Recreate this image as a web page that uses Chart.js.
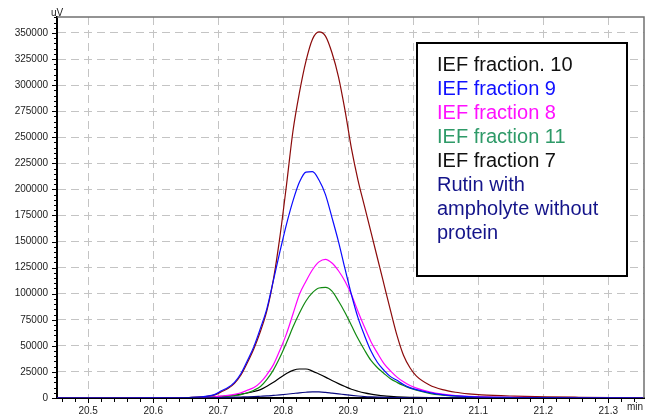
<!DOCTYPE html>
<html>
<head>
<meta charset="utf-8">
<script src="https://cdn.jsdelivr.net/npm/chart.js@4.4.1/dist/chart.umd.min.js"></script>
<style>
  html, body { margin: 0; padding: 0; background: #fff; }
  canvas { display: block; }
</style>
</head>
<body>
<canvas id="chart" width="652" height="415"></canvas>
<script>
// retention time (min)
const times = [20.45, 20.55, 20.605, 20.655, 20.675, 20.695,
  20.705, 20.715, 20.725, 20.735, 20.745, 20.755, 20.765, 20.775, 20.785, 20.795,
  20.805, 20.815, 20.825, 20.835, 20.845, 20.855, 20.865, 20.875, 20.885, 20.895,
  20.905, 20.915, 20.925, 20.935, 20.945, 20.955, 20.965, 20.975, 20.985, 20.995, 21.005,
  21.025, 21.045, 21.065, 21.085, 21.105,
  21.155, 21.205, 21.255, 21.305, 21.355];

// signal (uV)
const frac10 = [0, 0, 200, 500, 1000, 3000,
  6000, 9000, 14000, 22000, 34000, 47500, 64000, 84000, 114000, 155000,
  204000, 256000, 293000, 323000, 344000, 351000, 347000, 331000, 308000, 276000,
  239000, 209000, 184000, 159000, 134000, 109000, 84000, 60000, 41000, 29000, 21000,
  12500, 8000, 5500, 4000, 3000,
  1800, 1100, 700, 400, 200];
const frac9 = [0, 0, 200, 500, 1100, 3500,
  7000, 10000, 15000, 23500, 36000, 49500, 67000, 86000, 113000, 140500,
  166500, 189000, 207000, 216500, 217000, 209000, 195000, 173000, 150000, 124000,
  99000, 77000, 60000, 45000, 34000, 26500, 20500, 17000, 13000, 10000, 8000,
  5200, 3200, 2000, 1300, 900,
  500, 300, 200, 100, 0];
const frac8 = [0, 0, 100, 300, 500, 1200,
  1800, 2500, 3500, 5000, 7500, 10000, 15000, 22500, 32000, 46000,
  61500, 80500, 99500, 112000, 123000, 130500, 133000, 129500, 122000, 112000,
  99000, 83000, 68000, 54000, 43000, 33000, 26000, 20000, 15500, 12000, 9500,
  6000, 3800, 2400, 1600, 1100,
  600, 350, 200, 100, 0];
const frac11 = [0, 0, 100, 250, 450, 800,
  1200, 1700, 2300, 3200, 5000, 7500, 11000, 17800, 27000, 39000,
  53000, 68000, 81500, 93000, 101000, 105500, 106000, 102500, 93000, 82000,
  69500, 57000, 46000, 36000, 29000, 23500, 18500, 15000, 12000, 9500, 7500,
  4500, 2800, 1800, 1200, 800,
  400, 250, 150, 100, 0];
const frac7 = [0, 0, 100, 300, 600, 1100,
  1500, 2000, 2800, 3700, 4800, 6200, 8000, 11300, 15000, 19300,
  23500, 26500, 27800, 27800, 25800, 23000, 20000, 16800, 13800, 11000,
  8400, 6500, 4900, 3700, 2800, 2100, 1600, 1200, 900, 700, 550,
  350, 250, 180, 120, 80,
  40, 0, 0, 0, 0];
const rutin = [0, 0, 0, 100, 200, 350,
  450, 600, 750, 950, 1150, 1400, 1700, 2000, 2500, 3000,
  3600, 4300, 5000, 5500, 5800, 5800, 5400, 4700, 4000, 3200,
  2500, 1900, 1400, 1050, 800, 600, 450, 350, 280, 220, 180,
  120, 80, 50, 30, 20,
  0, 0, 0, 0, 0];

const xTicks = [20.5, 20.6, 20.7, 20.8, 20.9, 21.0, 21.1, 21.2, 21.3];
const yTicks = [0, 25000, 50000, 75000, 100000, 125000, 150000, 175000,
  200000, 225000, 250000, 275000, 300000, 325000, 350000];

const seriesLabels = ["IEF fraction. 10", "IEF fraction 9", "IEF fraction 8",
  "IEF fraction 11", "IEF fraction 7", "Rutin with ampholyte without protein"];
const legendLines = [["IEF fraction. 10"], ["IEF fraction 9"], ["IEF fraction 8"],
  ["IEF fraction 11"], ["IEF fraction 7"], ["Rutin with", "ampholyte without", "protein"]];
const lineColors = ["#8b0a0a", "#0a0aff", "#ff00ff", "#118a11", "#000000", "#0a0a80"];
const textColors = ["#111111", "#1010ff", "#ff10ff", "#2e9a68", "#111111", "#14148a"];
const drawOrder = [5, 1, 2, 3, 4, 0];

const allSeries = [frac10, frac9, frac8, frac11, frac7, rutin];
const FONT = "'Liberation Sans', Arial, sans-serif";

const frame = {
  id: "frame",
  afterDraw(chart) {
    const { ctx, chartArea: a, scales: { x, y } } = chart;
    ctx.save();
    // top and right border
    ctx.strokeStyle = "#707070";
    ctx.lineWidth = 1.5;
    ctx.beginPath();
    ctx.moveTo(a.left, a.top);
    ctx.lineTo(a.right, a.top);
    ctx.lineTo(a.right, a.bottom);
    ctx.stroke();

    // tick marks, minor and major
    ctx.strokeStyle = "#000";
    ctx.lineWidth = 1;
    ctx.beginPath();
    for (let i = 0; i <= 45; i++) {
      const v = 20.46 + i * 0.02;
      const px = Math.round(x.getPixelForValue(v)) + 0.5;
      if (px < a.left || px > a.right) continue;
      const major = Math.abs(v * 10 - Math.round(v * 10)) < 1e-6;
      ctx.moveTo(px, a.bottom);
      ctx.lineTo(px, a.bottom + (major ? 5 : 4));
    }
    for (let v = 0; v <= 365000; v += 5000) {
      const py = Math.round(y.getPixelForValue(v)) + 0.5;
      ctx.moveTo(a.left, py);
      ctx.lineTo(a.left - (v % 25000 === 0 ? 5 : 3), py);
    }
    ctx.stroke();

    // unit labels
    ctx.fillStyle = "#222";
    ctx.font = "10px " + FONT;
    ctx.textBaseline = "alphabetic";
    ctx.textAlign = "left";
    ctx.fillText("uV", 51, 16);
    ctx.textBaseline = "middle";
    ctx.fillText("min", 627, 407);

    // legend box
    const bx = 417, by = 43, bw = 210, bh = 233;
    ctx.fillStyle = "#fff";
    ctx.fillRect(bx, by, bw, bh);
    ctx.strokeStyle = "#000";
    ctx.lineWidth = 2;
    ctx.strokeRect(bx, by, bw, bh);
    ctx.font = "20px " + FONT;
    ctx.textBaseline = "middle";
    let ly = 65;
    legendLines.forEach((lines, i) => {
      ctx.fillStyle = textColors[i];
      lines.forEach((t) => {
        ctx.fillText(t, 437, ly);
        ly += 24;
      });
    });
    ctx.restore();
  }
};

new Chart(document.getElementById("chart"), {
  type: "line",
  data: {
    datasets: allSeries.map((s, i) => ({
      label: seriesLabels[i],
      data: times.map((t, j) => ({ x: t, y: s[j] })),
      borderColor: lineColors[i],
      borderWidth: 1.2,
      pointRadius: 0,
      cubicInterpolationMode: "monotone",
      fill: false,
      order: drawOrder[i],
    })),
  },
  options: {
    responsive: false,
    animation: false,
    layout: { padding: { top: 17, right: 8, left: 0, bottom: 0 } },
    plugins: {
      legend: { display: false },
      tooltip: { enabled: false },
    },
    scales: {
      x: {
        type: "linear",
        min: 20.452,
        max: 21.355,
        afterBuildTicks: (scale) => {
          scale.ticks = xTicks.map((v) => ({ value: v }));
        },
        afterFit: (scale) => { scale.height = 17; },
        ticks: {
          padding: 7,
          color: "#222",
          font: { family: FONT, size: 10 },
          maxRotation: 0,
          callback: (v) => v.toFixed(1),
        },
        grid: { color: "#c4c4c4", lineWidth: 1, drawTicks: false },
        border: { color: "#000", width: 2, dash: [8, 5] },
      },
      y: {
        min: 0,
        max: 365300,
        afterBuildTicks: (scale) => {
          scale.ticks = yTicks.map((v) => ({ value: v }));
        },
        afterFit: (scale) => { scale.width = 57; },
        ticks: {
          padding: 9,
          color: "#222",
          font: { family: FONT, size: 10 },
          callback: (v) => String(v),
        },
        grid: { color: "#c4c4c4", lineWidth: 1, drawTicks: false },
        border: { color: "#000", width: 2, dash: [8, 5] },
      },
    },
  },
  plugins: [frame],
});
</script>
</body>
</html>
